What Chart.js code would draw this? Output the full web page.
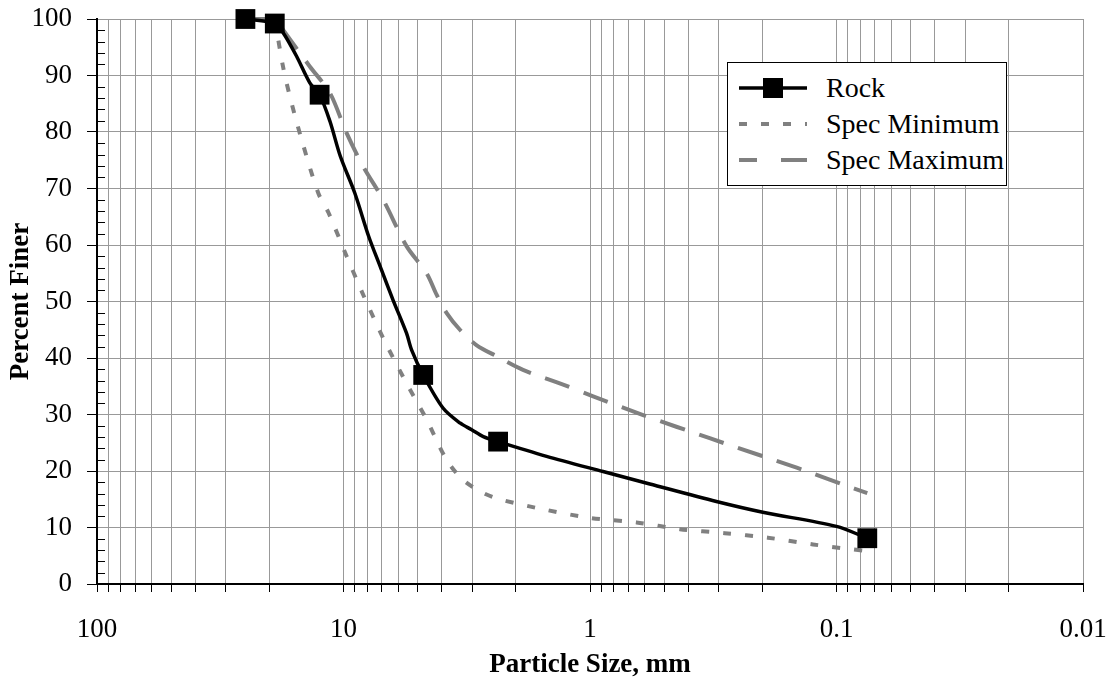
<!DOCTYPE html>
<html>
<head>
<meta charset="utf-8">
<script src="https://cdn.jsdelivr.net/npm/chart.js@4.4.1/dist/chart.umd.min.js"></script>
<style>
  html, body { margin: 0; padding: 0; background: #fff; }
  #wrap { position: relative; width: 1110px; height: 681px; }
  #legend {
    position: absolute; left: 727px; top: 62px; width: 280px; height: 124px;
    box-sizing: border-box; border: 1px solid #000; background: #fff;
    font-family: "Times New Roman", "Liberation Serif", serif; font-size: 28px; color: #000;
  }
  .row { position: absolute; left: 0; height: 36px; display: flex; align-items: center; white-space: nowrap; }
  .row svg { margin-left: 11px; }
  .row span { margin-left: 19px; }
</style>
</head>
<body>
<div id="wrap">
  <canvas id="myChart" width="1110" height="681"></canvas>
  <div id="legend">
    <div class="row" style="top:7px">
      <svg width="68" height="36"><line x1="0" y1="18" x2="68" y2="18" stroke="#000" stroke-width="3.5"/><rect x="24" y="8" width="20" height="20" fill="#000"/></svg>
      <span>Rock</span>
    </div>
    <div class="row" style="top:43px">
      <svg width="68" height="36"><line x1="0" y1="18" x2="68" y2="18" stroke="#808080" stroke-width="4" stroke-dasharray="8 14"/></svg>
      <span>Spec Minimum</span>
    </div>
    <div class="row" style="top:79px">
      <svg width="68" height="36"><line x1="0" y1="18" x2="68" y2="18" stroke="#808080" stroke-width="4" stroke-dasharray="18 24 26"/></svg>
      <span>Spec Maximum</span>
    </div>
  </div>
</div>
<script>
// particle size (mm) and percent finer
const rockSize  = [25, 19, 17.6, 15.5, 13.7, 12.5, 11.35, 10.3, 9.0, 7.9, 7.1, 6.3, 5.55, 5.3, 4.75, 3.94, 3.37, 3.02, 2.71, 2.36, 1.5, 0.885, 0.572, 0.307, 0.199, 0.1, 0.075];
const rockFiner = [100, 99.2, 97.6, 93.4, 88.7, 86.6, 81.9, 75.7, 69.2, 61.5, 56.2, 50.3, 44.4, 41.5, 37.0, 31.1, 28.5, 27.3, 26.1, 25.2, 22.6, 19.9, 17.7, 14.6, 12.7, 10.2, 8.1];
// sieves that carry a marker
const rockSieves = [25, 19, 12.5, 4.75, 2.36, 0.075];

const minSize  = [19, 17.6, 16.5, 14.8, 12.66, 11.5, 9.71, 8.32, 6.9, 5.64, 4.6, 3.82, 3.27, 2.71, 2.285, 1.5, 1.0, 0.648, 0.432, 0.284, 0.19, 0.1245, 0.075];
const minFiner = [100, 91.6, 86.3, 78.7, 69.2, 65.7, 58.0, 51.2, 43.5, 36.1, 29.1, 22.0, 18.4, 16.1, 14.9, 13.1, 11.7, 10.9, 9.7, 9.0, 8.2, 7.0, 5.8];

const maxSize  = [25, 19, 17.6, 13.7, 11.35, 9.71, 8.32, 6.9, 5.55, 4.6, 4.19, 3.82, 3.37, 2.89, 2.39, 1.87, 1.285, 0.971, 0.609, 0.327, 0.2016, 0.1388, 0.0955, 0.075];
const maxFiner = [100, 100, 98.1, 91.6, 86.9, 79.8, 73.9, 68.0, 59.8, 55.0, 51.2, 48.0, 45.0, 42.3, 40.3, 37.9, 35.3, 33.2, 29.9, 25.8, 22.7, 20.3, 17.7, 16.1];

const decades = [100, 10, 1, 0.1, 0.01];
const xTickLabels = ['100', '10', '1', '0.1', '0.01'];
const yMinorStep = 2;

const serif = '"Times New Roman", "Liberation Serif", serif';
const toPoints = (xs, ys) => xs.map((x, i) => ({ x: x, y: ys[i] }));

// small inward ticks on the y axis
const yMinorTicks = {
  id: 'yMinorTicks',
  afterDraw(chart) {
    const y = chart.scales.y;
    const ctx = chart.ctx;
    ctx.save();
    ctx.strokeStyle = '#000';
    ctx.lineWidth = 1;
    for (let v = y.min + yMinorStep; v < y.max; v += yMinorStep) {
      if (v % 10 === 0) continue;
      const py = Math.round(y.getPixelForValue(v)) + 0.5;
      ctx.beginPath();
      ctx.moveTo(y.right, py);
      ctx.lineTo(y.right + 8, py);
      ctx.stroke();
    }
    ctx.restore();
  }
};

new Chart(document.getElementById('myChart'), {
  type: 'line',
  data: {
    datasets: [
      {
        label: 'Rock',
        data: toPoints(rockSize, rockFiner),
        borderColor: '#000',
        backgroundColor: '#000',
        borderWidth: 3.5,
        tension: 0.3,
        pointStyle: 'rect',
        pointRadius: (c) => rockSieves.includes(rockSize[c.dataIndex]) ? 14 : 0,
        pointBorderWidth: 0,
        clip: false
      },
      {
        label: 'Spec Minimum',
        data: toPoints(minSize, minFiner),
        borderColor: '#808080',
        borderWidth: 4,
        borderDash: [8, 14],
        tension: 0.3,
        pointRadius: 0,
        clip: false
      },
      {
        label: 'Spec Maximum',
        data: toPoints(maxSize, maxFiner),
        borderColor: '#808080',
        borderWidth: 4,
        borderDash: [26, 15],
        tension: 0.3,
        pointRadius: 0,
        clip: false
      }
    ]
  },
  options: {
    responsive: false,
    animation: false,
    devicePixelRatio: 1,
    layout: { padding: { top: 19, right: 27, left: 0, bottom: 0 } },
    plugins: { legend: { display: false }, tooltip: { enabled: false } },
    scales: {
      x: {
        type: 'logarithmic',
        min: 0.01,
        max: 100,
        reverse: true,
        afterBuildTicks: (axis) => {
          const vals = [];
          decades.slice(1).forEach((d) => {
            for (let m = 1; m <= 9; m++) vals.push(Number((m * d).toPrecision(6)));
          });
          vals.push(decades[0]);
          axis.ticks = vals.map((v) => ({ value: v }));
        },
        afterFit: (scale) => { scale.height = 97; scale.paddingLeft = 0; scale.paddingRight = 0; },
        grid: { color: '#999', lineWidth: 1, tickLength: 8, tickColor: '#000' },
        border: { color: '#000', width: 2 },
        ticks: {
          autoSkip: false,
          maxRotation: 0,
          padding: 22,
          color: '#000',
          font: { family: serif, size: 27 },
          callback: (value) => {
            const i = decades.findIndex((d) => Math.abs(d - value) < d * 1e-6);
            return i >= 0 ? xTickLabels[i] : '';
          }
        },
        title: {
          display: true,
          text: 'Particle Size, mm',
          color: '#000',
          font: { family: serif, size: 27, weight: 'bold' },
          padding: { top: 0, bottom: 0 }
        }
      },
      y: {
        min: 0,
        max: 100,
        afterFit: (scale) => { scale.width = 97; scale.paddingTop = 0; scale.paddingBottom = 0; },
        grid: { color: '#999', lineWidth: 1, tickLength: 10, tickColor: '#000' },
        border: { color: '#000', width: 2 },
        ticks: {
          stepSize: 10,
          padding: 15,
          color: '#000',
          font: { family: serif, size: 27 }
        },
        title: {
          display: true,
          text: 'Percent Finer',
          color: '#000',
          font: { family: serif, size: 27, weight: 'bold' },
          padding: { top: 5, bottom: 0 }
        }
      }
    }
  },
  plugins: [yMinorTicks]
});
</script>
</body>
</html>
